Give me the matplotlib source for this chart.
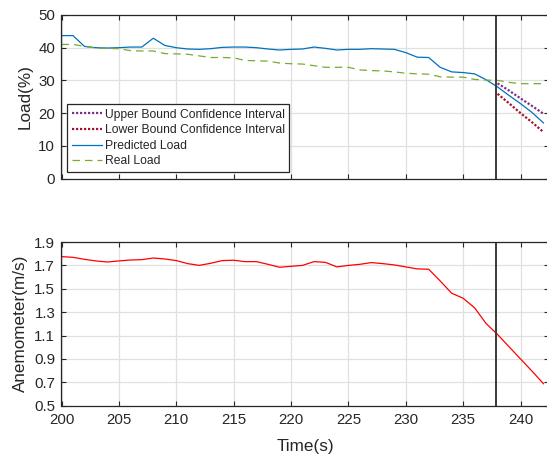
import matplotlib
matplotlib.use("Agg")
import matplotlib.pyplot as plt
import numpy as np

plt.rcParams['font.family'] = ['Liberation Sans', 'DejaVu Sans']

# ---- data ----
time = list(range(200, 243))
predicted_load = [43.7, 43.7, 40.4, 40.0, 39.9, 40.0, 40.2, 40.2, 42.9, 40.7,
                  40.0, 39.6, 39.5, 39.7, 40.1, 40.2, 40.2, 40.0, 39.6, 39.3,
                  39.5, 39.6, 40.2, 39.8, 39.3, 39.5, 39.5, 39.7, 39.6, 39.5,
                  38.5, 37.1, 37.0, 34.0, 32.6, 32.4, 32.0, 30.2, 28.0, 25.4,
                  22.9, 20.2, 17.0]
real_load = [41.0, 41.0, 40.4, 39.9, 39.8, 39.7, 39.1, 39.0, 39.0, 38.2,
             38.1, 38.0, 37.5, 37.0, 37.0, 36.9, 36.1, 36.0, 35.9, 35.3,
             35.1, 35.0, 34.5, 34.0, 34.0, 34.0, 33.2, 33.0, 32.9, 32.6,
             32.2, 32.0, 31.9, 31.1, 31.0, 31.0, 30.3, 30.1, 30.0, 29.4,
             29.0, 29.0, 29.0]
ci_time = [238, 239, 240, 241, 242]
upper_ci = [29.1, 26.9, 24.5, 22.2, 19.8]
lower_ci = [25.9, 23.0, 20.0, 17.2, 14.2]
anemometer = [1.775, 1.769, 1.752, 1.738, 1.729, 1.738, 1.746, 1.749, 1.763, 1.755,
              1.741, 1.715, 1.700, 1.718, 1.741, 1.744, 1.732, 1.732, 1.709, 1.684,
              1.692, 1.700, 1.732, 1.726, 1.687, 1.700, 1.709, 1.724, 1.715, 1.704,
              1.687, 1.670, 1.667, 1.567, 1.462, 1.419, 1.337, 1.203, 1.109, 1.004,
              0.900, 0.796, 0.688]
marker_time = 237.9
load_yticks = [0, 10, 20, 30, 40, 50]
wind_yticks = [0.5, 0.7, 0.9, 1.1, 1.3, 1.5, 1.7, 1.9]
xticks = [200, 205, 210, 215, 220, 225, 230, 235, 240]

W, H = 547, 459
fig = plt.figure(figsize=(W / 100, H / 100), dpi=100)

ax_left = 61.5
ax_right = 549.2
ax_w = ax_right - ax_left

def add_ax(top, bottom):
    return fig.add_axes([ax_left / W, 1 - bottom / H, ax_w / W, (bottom - top) / H])

ax1 = add_ax(15.0, 178.5)
ax2 = add_ax(242.0, 405.7)

spine_c = '#262626'
grid_c = '#e0e0e0'
for ax in (ax1, ax2):
    ax.set_xlim(200, 242.5)
    ax.set_xticks(xticks)
    ax.grid(True, color=grid_c, linewidth=0.9)
    ax.set_axisbelow(True)
    for s in ax.spines.values():
        s.set_color(spine_c)
        s.set_linewidth(0.9)
    ax.tick_params(direction='in', length=3.6, width=0.8, color=spine_c,
                   labelcolor=spine_c, labelsize=10.8, top=True, right=True)
    ax.tick_params(axis='y', pad=4.5)
    ax.tick_params(axis='x', pad=5)

# top panel
ax1.plot(ci_time, upper_ci, linestyle=(0, (1, 0.8)), color='#7E2F8E', linewidth=1.6,
         label='Upper Bound Confidence Interval')
ax1.plot(ci_time, lower_ci, linestyle=(0, (1, 0.8)), color='#A2142F', linewidth=1.6,
         label='Lower Bound Confidence Interval')
ax1.plot(time, predicted_load, color='#0072BD', linewidth=0.9, label='Predicted Load')
ax1.plot(time, real_load, color='#77AC30', linewidth=0.9, linestyle=(0, (6, 4)),
         label='Real Load')
ax1.axvline(marker_time, color='#3a3a3a', linewidth=1.4)
ax1.set_ylim(0, 50)
ax1.set_yticks(load_yticks)
ax1.tick_params(axis='x', labelbottom=False)
ax1.set_ylabel('Load(%)', fontsize=12.3, color=spine_c, va='center')
ax1.yaxis.set_label_coords((25 - ax_left) / ax_w, 0.5)

leg = ax1.legend(loc='lower left', bbox_to_anchor=((67.3 - ax_left) / ax_w, (178.5 - 171.7) / 163.5),
                 borderaxespad=0, fontsize=8.7, frameon=True, fancybox=False,
                 edgecolor=spine_c, framealpha=1, handlelength=2.5, handletextpad=0.25,
                 labelspacing=0.3, borderpad=0.35)
leg.get_frame().set_linewidth(0.9)
for t in leg.get_texts():
    t.set_color(spine_c)

# bottom panel
ax2.plot(time, anemometer, color='#FF0000', linewidth=0.9)
ax2.axvline(marker_time, color='#3a3a3a', linewidth=1.4)
ax2.set_ylim(0.5, 1.9)
ax2.set_yticks(wind_yticks)
ax2.set_yticklabels([f'{v:.1f}' for v in wind_yticks])
ax2.set_ylabel('Anemometer(m/s)', fontsize=12.3, color=spine_c, va='center')
ax2.yaxis.set_label_coords((20 - ax_left) / ax_w, 0.505)
ax2.set_xlabel('Time(s)', fontsize=12.3, color=spine_c)
ax2.xaxis.set_label_coords(0.5, (405.7 - 438.5) / 163.7)

fig.savefig('out.png', dpi=100)
